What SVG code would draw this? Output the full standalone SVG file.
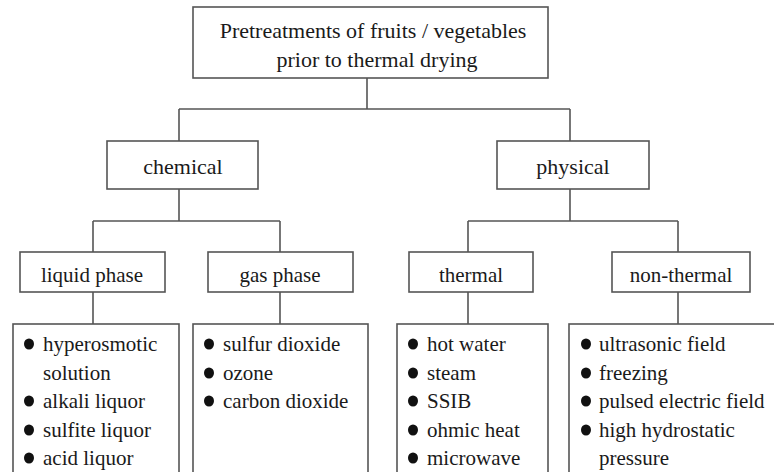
<svg xmlns="http://www.w3.org/2000/svg" width="774" height="472" viewBox="0 0 774 472">
<style>
.box{fill:#fff;stroke:#555;stroke-width:1.6}
.ln{fill:none;stroke:#555;stroke-width:1.6}
text{font-family:"Liberation Serif","Times New Roman",serif;fill:#1a1a1a}
.t{font-size:21px;text-anchor:middle}
.h{font-size:22px;text-anchor:middle}
.li{font-size:21px}
.b{fill:#111}
</style>
<rect width="774" height="472" fill="#fff"/>
<g id="connectors">
<path class="ln" d="M367,78V109M179,109H570M179,109V141M570,109V141"/>
<path class="ln" d="M179,189V221M93,221H280M93,221V252M280,221V252"/>
<path class="ln" d="M570,189V221M468,221H678M468,221V252M678,221V252"/>
<path class="ln" d="M93,292V324M280,292V324M468,292V324M678,292V324"/>
</g>
<g font-family="Liberation Serif, Times New Roman, serif">
<g id="root">
<rect class="box" x="193" y="7" width="355" height="71"/>
<text class="h" x="373" y="38">Pretreatments of fruits / vegetables</text>
<text class="h" x="377" y="67">prior to thermal drying</text>
</g>
<g id="chemical">
<rect class="box" x="107" y="141" width="151" height="48"/>
<text class="h" x="183" y="174">chemical</text>
</g>
<g id="physical">
<rect class="box" x="497" y="141" width="152" height="48"/>
<text class="h" x="573" y="174">physical</text>
</g>
<g id="liquid-phase">
<rect class="box" x="20" y="252" width="145" height="40"/>
<text class="t" x="92" y="282">liquid phase</text>
</g>
<g id="gas-phase">
<rect class="box" x="208" y="252" width="145" height="40"/>
<text class="t" x="280" y="282">gas phase</text>
</g>
<g id="thermal">
<rect class="box" x="409" y="252" width="124" height="40"/>
<text class="t" x="471" y="282">thermal</text>
</g>
<g id="non-thermal">
<rect class="box" x="612" y="252" width="138" height="40"/>
<text class="t" x="681" y="282">non-thermal</text>
</g>
<g id="liquid-list">
<rect class="box" x="13" y="324" width="166" height="170"/>
<ellipse class="b" cx="29" cy="344" rx="5" ry="5.5"/>
<ellipse class="b" cx="29" cy="401" rx="5" ry="5.5"/>
<ellipse class="b" cx="29" cy="430" rx="5" ry="5.5"/>
<ellipse class="b" cx="29" cy="458" rx="5" ry="5.5"/>
<text class="li" x="43" y="351">hyperosmotic</text>
<text class="li" x="43" y="380">solution</text>
<text class="li" x="43" y="408">alkali liquor</text>
<text class="li" x="43" y="437">sulfite liquor</text>
<text class="li" x="43" y="465">acid liquor</text>
</g>
<g id="gas-list">
<rect class="box" x="193" y="324" width="175" height="170"/>
<ellipse class="b" cx="209" cy="344" rx="5" ry="5.5"/>
<ellipse class="b" cx="209" cy="373" rx="5" ry="5.5"/>
<ellipse class="b" cx="209" cy="401" rx="5" ry="5.5"/>
<text class="li" x="223" y="351">sulfur dioxide</text>
<text class="li" x="223" y="380">ozone</text>
<text class="li" x="223" y="408">carbon dioxide</text>
</g>
<g id="thermal-list">
<rect class="box" x="397" y="324" width="151" height="170"/>
<ellipse class="b" cx="413" cy="344" rx="5" ry="5.5"/>
<ellipse class="b" cx="413" cy="373" rx="5" ry="5.5"/>
<ellipse class="b" cx="413" cy="401" rx="5" ry="5.5"/>
<ellipse class="b" cx="413" cy="430" rx="5" ry="5.5"/>
<ellipse class="b" cx="413" cy="458" rx="5" ry="5.5"/>
<text class="li" x="427" y="351">hot water</text>
<text class="li" x="427" y="380">steam</text>
<text class="li" x="427" y="408">SSIB</text>
<text class="li" x="427" y="437">ohmic heat</text>
<text class="li" x="427" y="465">microwave</text>
</g>
<g id="non-thermal-list">
<rect class="box" x="569" y="324" width="230" height="170"/>
<ellipse class="b" cx="586" cy="344" rx="5" ry="5.5"/>
<ellipse class="b" cx="586" cy="373" rx="5" ry="5.5"/>
<ellipse class="b" cx="586" cy="401" rx="5" ry="5.5"/>
<ellipse class="b" cx="586" cy="430" rx="5" ry="5.5"/>
<text class="li" x="599" y="351">ultrasonic field</text>
<text class="li" x="599" y="380">freezing</text>
<text class="li" x="599" y="408">pulsed electric field</text>
<text class="li" x="599" y="437">high hydrostatic</text>
<text class="li" x="599" y="465">pressure</text>
</g>
</g>
</svg>
